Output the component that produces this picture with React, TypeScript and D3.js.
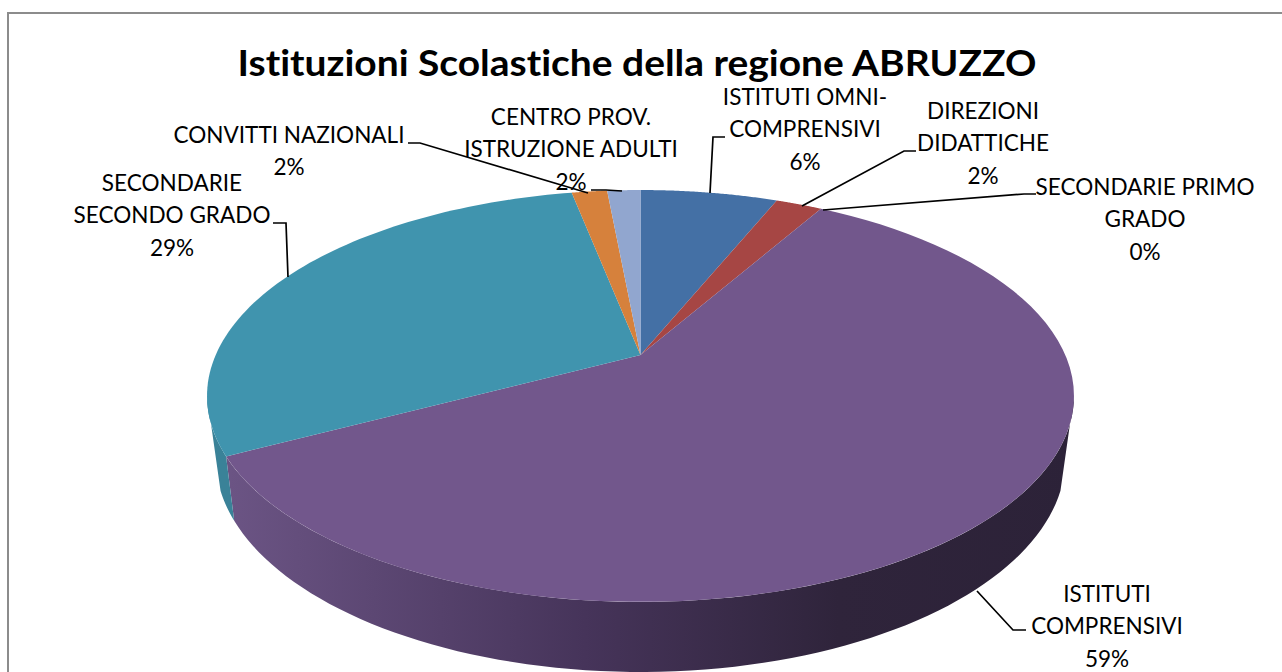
import React from "react";
import * as d3 from "d3";

const categories = [
  "ISTITUTI OMNI-COMPRENSIVI",
  "DIREZIONI DIDATTICHE",
  "SECONDARIE PRIMO GRADO",
  "ISTITUTI COMPRENSIVI",
  "SECONDARIE SECONDO GRADO",
  "CONVITTI NAZIONALI",
  "CENTRO PROV. ISTRUZIONE ADULTI",
];
const shares = [6.2, 2.1, 0, 59.0, 29.6, 1.6, 1.5];
const percentLabels = ["6%", "2%", "0%", "59%", "29%", "2%", "2%"];
const labelLines = [
  ["ISTITUTI OMNI-", "COMPRENSIVI"],
  ["DIREZIONI", "DIDATTICHE"],
  ["SECONDARIE PRIMO", "GRADO"],
  ["ISTITUTI", "COMPRENSIVI"],
  ["SECONDARIE", "SECONDO GRADO"],
  ["CONVITTI NAZIONALI"],
  ["CENTRO PROV.", "ISTRUZIONE ADULTI"],
];
const topColors = ["#4470a5", "#a64644", "#84a04c", "#72578c", "#4094ae", "#d6813c", "#91a6cf"];
const wallColors = ["#3a5f8c", "#8c3a38", "#6f8740", "#5a4570", "#3a8298", "#b56d32", "#7b8cb0"];
const purpleWallStops = ["#6b5484", "#46345a", "#2f243b", "#2c2238"];

const WIDTH = 1282;
const HEIGHT = 672;
const FONT = "Lato, 'Noto Sans', sans-serif";

// where each label block sits: centre x, first line y, then the leader polyline
const labelLayout = [
  { x: 805, y: 105, leader: [[725, 137], [713, 137], [710, 193]] },
  { x: 983, y: 119, leader: [[916, 151], [904, 151], [802, 206]] },
  { x: 1145, y: 195, leader: [[1036, 194], [1024, 194], [823, 210]] },
  { x: 1107, y: 602, leader: [[1026, 630], [1013, 630], [977, 591]] },
  { x: 172, y: 191, leader: [[273, 223], [286, 223], [288, 277]] },
  { x: 289, y: 143, leader: [[408, 143], [420, 143], [588, 193]] },
  { x: 571, y: 125, leader: [[591, 190], [606, 190], [622, 191]] },
];
const LINE_STEP = 32.5;
const LABEL_SIZE = 23;
const LABEL_STRETCH = 0.98;

// perspective disc: the apex is not in the middle of the ellipse
const P = 0.199;
const topDisc = { cx: 640.5, cy: 355, rx: 424.8, ry: 197.8 };
const bottomDisc = { cx: 640.5, cy: 415.4, rx: 416.5, ry: 205.5 };
const project = (d: typeof topDisc, a: number): [number, number] => {
  const w = 1 + P * Math.cos(a);
  return [d.cx + (d.rx * Math.sin(a)) / w, d.cy - (d.ry * Math.cos(a)) / w];
};

// the wall leaves the top disc at its widest point and meets the bottom rim further round
const TOP_SIDE = (101.5 * Math.PI) / 180;
const BOTTOM_SIDE = (110 * Math.PI) / 180;

const arcs = d3.pie<number>().sort(null).value((v) => v)(shares);
const sampleAngles = (a0: number, a1: number) =>
  d3.range(0, 1.0001, 1 / 80).map((t) => a0 + (a1 - a0) * t);
const line = d3.line();

const topPath = (a0: number, a1: number) =>
  line([[topDisc.cx, topDisc.cy], ...sampleAngles(a0, a1).map((a) => project(topDisc, a))]) + "Z";
const wallPath = (a0: number, a1: number) => {
  const top0 = Math.max(a0, TOP_SIDE);
  const top1 = Math.min(a1, 2 * Math.PI - TOP_SIDE);
  const bottom0 = Math.max(a0, BOTTOM_SIDE);
  const bottom1 = Math.min(a1, 2 * Math.PI - BOTTOM_SIDE);
  if (top1 <= top0) return null;
  return (
    line([
      ...sampleAngles(top0, top1).map((a) => project(topDisc, a)),
      ...sampleAngles(bottom0, bottom1).reverse().map((a) => project(bottomDisc, a)),
    ]) + "Z"
  );
};

export default function App() {
  const wallX = d3.scaleLinear().domain([0, 1]).range([230, 1075]);
  const stopAt = [0, 0.42, 0.72, 1];
  return (
    <svg
      width={WIDTH}
      height={HEIGHT}
      style={{ position: "absolute", left: 0, top: 0, background: "#fff" }}
    >
      <defs>
        <linearGradient
          id="purpleWall"
          gradientUnits="userSpaceOnUse"
          x1={wallX(0)}
          x2={wallX(1)}
          y1={0}
          y2={0}
        >
          {purpleWallStops.map((c, i) => (
            <stop key={c} offset={stopAt[i]} stopColor={c} />
          ))}
        </linearGradient>
      </defs>

      <rect x={8} y={13} width={1290} height={680} fill="none" stroke="#8c8c8c" strokeWidth={2} />

      {/* side walls, only the front half shows */}
      {arcs.map((d, i) => {
        const p = wallPath(d.startAngle, d.endAngle);
        if (!p || d.endAngle <= d.startAngle) return null;
        return (
          <path key={categories[i]} d={p} fill={i === 3 ? "url(#purpleWall)" : wallColors[i]} />
        );
      })}
      {arcs.map((d, i) =>
        d.endAngle > d.startAngle ? (
          <path key={categories[i]} d={topPath(d.startAngle, d.endAngle)} fill={topColors[i]} />
        ) : null
      )}

      {labelLayout.map((l, i) => (
        <polyline
          key={categories[i]}
          points={l.leader.join(" ")}
          fill="none"
          stroke="#000"
          strokeWidth={1.7}
        />
      ))}

      <text
        x={637}
        y={76}
        textAnchor="middle"
        fontFamily={FONT}
        fontWeight={700}
        fontSize={37}
        textLength={799}
        lengthAdjust="spacingAndGlyphs"
        style={{ fontVariantLigatures: "none" }}
      >
        Istituzioni Scolastiche della regione ABRUZZO
      </text>

      {labelLayout.map((l, i) => (
        <g
          key={categories[i]}
          transform={`translate(${l.x},${l.y}) scale(${LABEL_STRETCH},1)`}
          fontFamily={FONT}
          fontSize={LABEL_SIZE}
          textAnchor="middle"
          fill="#000"
          style={{ fontVariantLigatures: "none" }}
        >
          {[...labelLines[i], percentLabels[i]].map((t, j) => (
            <text key={j} y={j * LINE_STEP}>
              {t}
            </text>
          ))}
        </g>
      ))}
    </svg>
  );
}
